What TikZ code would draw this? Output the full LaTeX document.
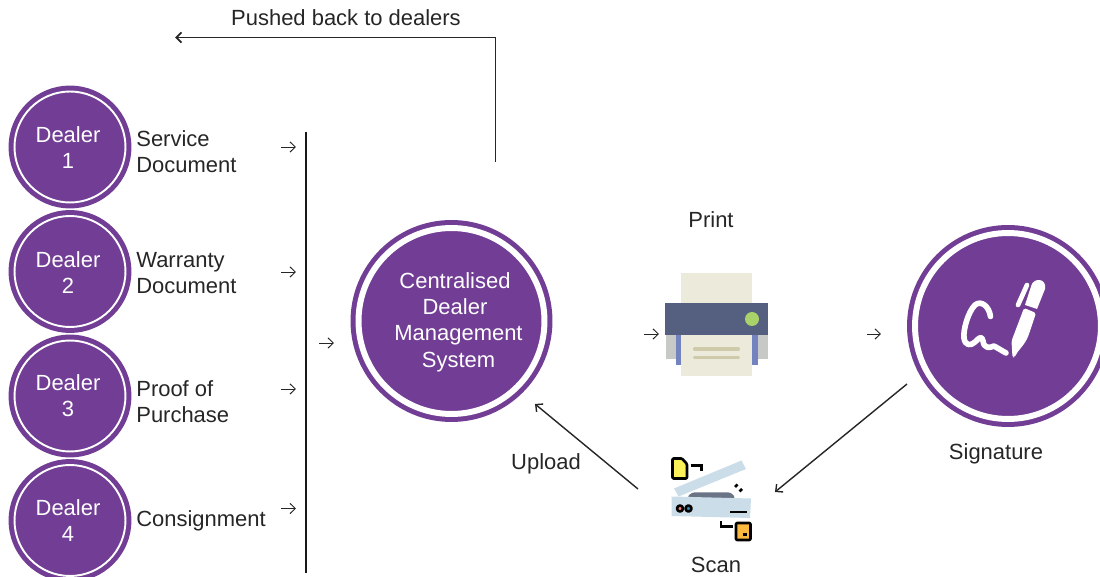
\documentclass[tikz,border=0pt]{standalone}
\usepackage{fontspec}
\setmainfont{Liberation Sans}
\usepackage{xcolor}
\usetikzlibrary{positioning,calc,arrows.meta}
\definecolor{dealerpurple}{HTML}{723D94}
\definecolor{inktext}{HTML}{262626}
\definecolor{paperbeige}{HTML}{ECEADA}
\definecolor{printerslate}{HTML}{556080}
\definecolor{printerblue}{HTML}{7383BF}
\definecolor{printergrey}{HTML}{C7C9C6}
\definecolor{printerled}{HTML}{A9D26A}
\definecolor{printerline}{HTML}{CFCBAA}
\definecolor{scanblue}{HTML}{CBDDE9}
\definecolor{scanhump}{HTML}{6B7487}
\definecolor{docyellow}{HTML}{FAF05A}
\definecolor{docorange}{HTML}{FDB840}
\tikzset{
  lbl/.style={text=inktext,inner sep=0pt,align=left,font=\fontsize{12.5}{14.8}\selectfont},
  dealerdisc/.style={circle,inner sep=0pt,outer sep=0pt,minimum size=2.22cm,fill=dealerpurple,draw=white,line width=1.1pt,
    preaction={draw=dealerpurple,line width=6.8pt}},
  bigdisc/.style={circle,inner sep=0pt,outer sep=0pt,minimum size=3.72cm,fill=dealerpurple,draw=white,line width=3.4pt,
    preaction={draw=dealerpurple,line width=9.1pt}},
  disctext/.style={inner sep=0pt,text=white,align=center,font=\fontsize{12.5}{14.8}\selectfont},
  flow/.style={-{Straight Barb[length=3pt,width=5.8pt]},inktext,line width=0.8pt},
  tiny/.style={-{Straight Barb[length=3pt,width=5.8pt]},inktext,line width=0.55pt},
  icon/.style={draw=black,line width=1.5pt,line join=round}
}
\begin{document}
\begin{tikzpicture}[x=0.02cm,y=-0.02cm]
\clip (0,0) rectangle (1100,577);
\useasboundingbox (0,0) rectangle (1100,577);
% Dealers
\node[dealerdisc] (dealerone) at (70,147) {};
\node[dealerdisc] (dealertwo) at (70,271.5) {};
\node[dealerdisc] (dealerthree) at (70,396) {};
\node[dealerdisc] (dealerfour) at (70,520.5) {};
\node[disctext] (dealeronetext) at (68,147.5) {Dealer\\1};
\node[disctext] (dealertwotext) at (68,273) {Dealer\\2};
\node[disctext] (dealerthreetext) at (68,395.5) {Dealer\\3};
\node[disctext] (dealerfourtext) at (68,520.5) {Dealer\\4};
% Document labels
\node[lbl,anchor=west] (service) at (136,151.5) {Service\\Document};
\node[lbl,anchor=west] (warranty) at (136,273.5) {Warranty\\Document};
\node[lbl,anchor=west] (proof) at (136,401.5) {Proof of\\Purchase};
\node[lbl,anchor=west] (consign) at (136,521) {Consignment};
% Collecting bar
\coordinate (bartop) at (306,132);
\coordinate (barbot) at (306,573);
\draw[black!90,line width=1.5pt] (bartop) -- (barbot);
% Small arrows
\coordinate (aone) at (281,147); \coordinate (aoneend) at (296,147);
\coordinate (atwo) at (281,272); \coordinate (atwoend) at (296,272);
\coordinate (athree) at (281,389); \coordinate (athreeend) at (296,389);
\coordinate (afour) at (281,508.5); \coordinate (afourend) at (296,508.5);
\coordinate (abar) at (319,343); \coordinate (abarend) at (334,343);
\coordinate (aprint) at (644,334); \coordinate (aprintend) at (659,334);
\coordinate (asign) at (867,334); \coordinate (asignend) at (881,334);
\draw[tiny] (aone) -- (aoneend);
\draw[tiny] (atwo) -- (atwoend);
\draw[tiny] (athree) -- (athreeend);
\draw[tiny] (afour) -- (afourend);
\draw[tiny] (abar) -- (abarend);
\draw[tiny] (aprint) -- (aprintend);
\draw[tiny] (asign) -- (asignend);
% Main circles
\node[bigdisc] (cdms) at (451.5,321) {};
\node[disctext,font=\fontsize{12.5}{15}\selectfont] (cdmstext) at (458.5,322) {Centralised\hspace*{4pt}\\\mbox{Dealer}\hspace*{4pt}\mbox{}\\Management\\System};
\node[bigdisc] (sign) at (1008,326) {};
% Signature scribble and pen
\draw[white,line width=3.2pt,line cap=round,line join=round] (990.5,316.5) .. controls (989,306) and (981,300) .. (975,305)
  .. controls (968,312) and (963,330) .. (964,338) .. controls (965,346) and (971,346) .. (975,342)
  .. controls (979,338) and (982,335) .. (983,341) .. controls (984,349) and (990,348) .. (994,346) -- (1006,353);
\fill[white,rounded corners=1pt] (1012.5,357.5) -- (1011.5,341) -- (1024,308) -- (1036,313) -- (1029,334) .. controls (1025,345) and (1018,350) .. (1014.5,357.5) -- cycle;
\fill[white] (1025,305) -- (1031.5,285) .. controls (1034,277.5) and (1047,278) .. (1045,289) -- (1037,309) -- cycle;
\draw[white,line width=2.7pt,line cap=round] (1018,305) -- (1027,285);
% Printer
\coordinate (printer) at (716,324);
\fill[paperbeige] (681,273) rectangle (752,303);
\fill[printergrey] (666,335) rectangle (768,359.5);
\fill[printerblue] (676,335) rectangle (758,365);
\fill[printerslate] (665,303) rectangle (768,335);
\fill[paperbeige] (681,335) rectangle (752,376);
\fill[printerled] (752,319) circle[radius=0.14cm];
\draw[printerline,line width=1.8pt,line cap=round] (694.5,349) -- (738.5,349);
\draw[printerline,line width=1.8pt,line cap=round] (694.5,357.5) -- (738.5,357.5);
% Scanner
\coordinate (scanner) at (711,500);
\fill[scanblue] (674,488.5) -- (741.5,460.5) -- (746,469) -- (678.5,496.5) -- cycle;
\fill[scanhump,rounded corners=2pt] (686.5,498) -- (691.5,492.3) -- (731.5,492.3) -- (736,499) -- cycle;
\fill[scanblue] (671.5,496.5) -- (751,498.5) -- (750,518) -- (671.5,516) -- cycle;
\draw[icon,fill=red!50!white,line width=1.5pt] (680,508.5) circle[radius=0.06cm];
\draw[icon,fill=cyan!70!black,line width=1.5pt] (688.5,508.5) circle[radius=0.06cm];
\draw[black,line width=1.3pt] (730,512) -- (746.5,512);
\draw[black,line width=1.6pt] (735,487) -- (737.5,484.5);
\draw[black,line width=1.6pt] (739.5,491.5) -- (742,489);
\draw[icon,fill=docyellow,rounded corners=0.6pt] (672.5,458.5) -- (682,458.5) -- (687,464) -- (687,478.5) -- (672.5,478.5) -- cycle;
\draw[black,line width=1.4pt] (690.5,465.5) -- (701.5,465.5) -- (701.5,471.5);
\draw[icon,fill=docorange,rounded corners=0.6pt] (736,523) rectangle (750.5,540);
\fill[black] (743,533) rectangle (746.5,536.5);
\draw[black,line width=1.4pt] (721,521.5) -- (721,526.5) -- (732.5,526.5);
% Cycle arrows
\coordinate (signout) at (907,384);
\coordinate (scanin) at (775,492);
\coordinate (scanout) at (638,489);
\coordinate (cdmsin) at (535,404);
\draw[flow] (signout) -- (scanin);
\draw[flow] (scanout) -- (cdmsin);
% Push back arrow
\coordinate (pushstart) at (495.5,162);
\coordinate (pushend) at (175,37.5);
\draw[flow,line width=1pt] (pushstart) |- (pushend);
% Labels
\node[lbl] (pushed) at (346,18) {Pushed back to dealers};
\node[lbl] (print) at (711,219.5) {Print};
\node[lbl] (upload) at (546,464) {Upload};
\node[lbl] (signature) at (996,454) {Signature};
\node[lbl] (scan) at (716,564.5) {Scan};
\end{tikzpicture}
\end{document}
